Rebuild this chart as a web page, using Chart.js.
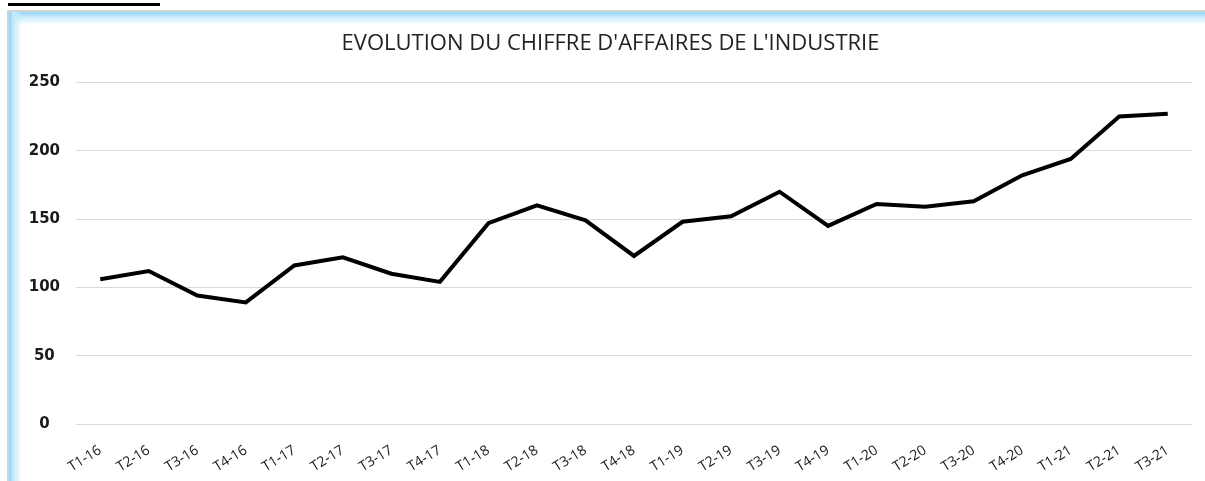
<!DOCTYPE html>
<html>
<head>
<meta charset="utf-8">
<script src="https://cdn.jsdelivr.net/npm/chart.js@4/dist/chart.umd.min.js"></script>
<style>
  html, body { margin: 0; padding: 0; background: #fff; }
  body { width: 1205px; height: 481px; position: relative; overflow: hidden; }
  #souligne { position: absolute; left: 8px; top: 3px; width: 152px; height: 3px; background: #000; }
  #cadre {
    position: absolute; left: 7px; top: 10px; right: -20px; bottom: -20px;
    border-left: 2px solid #d3d3d3; border-top: 2px solid #d3d3d3;
    background:
      linear-gradient(to right, #8fd5f4 0px, #c9ecfb 5px, rgba(255,255,255,0) 13px),
      linear-gradient(to bottom, #8fd5f4 0px, #c9ecfb 5px, rgba(255,255,255,0) 13px),
      #fff;
  }
  #zone { position: absolute; left: 0; top: 0; width: 1205px; height: 481px; }
</style>
</head>
<body>
<div id="souligne"></div>
<div id="cadre"></div>
<div id="zone"><canvas id="graphique"></canvas></div>
<script>
// trimestres et chiffre d'affaires (indice)
const trimestres = ['T1-16','T2-16','T3-16','T4-16','T1-17','T2-17','T3-17','T4-17',
  'T1-18','T2-18','T3-18','T4-18','T1-19','T2-19','T3-19','T4-19',
  'T1-20','T2-20','T3-20','T4-20','T1-21','T2-21','T3-21'];
const chiffreAffaires = [106, 112, 94, 89, 116, 122, 110, 104,
  147, 160, 149, 123, 148, 152, 170, 145,
  161, 159, 163, 182, 194, 225, 227];
const graduations = [0, 50, 100, 150, 200, 250];

const ctx = document.getElementById('graphique').getContext('2d');

new Chart(ctx, {
  type: 'line',
  data: {
    labels: trimestres,
    datasets: [{
      label: "Chiffre d'affaires",
      data: chiffreAffaires,
      borderColor: '#000',
      borderWidth: 4,
      pointRadius: 0,
      tension: 0,
      fill: false
    }]
  },
  options: {
    responsive: true,
    maintainAspectRatio: false,
    animation: false,
    layout: { padding: { left: 29, right: 13, top: 0, bottom: 0 } },
    plugins: {
      legend: { display: false },
      tooltip: { enabled: false },
      title: {
        display: true,
        text: "EVOLUTION DU CHIFFRE D'AFFAIRES DE L'INDUSTRIE",
        color: '#222',
        font: { family: 'Open Sans', size: 22, weight: 'normal' },
        padding: { top: 31, bottom: 25 }
      }
    },
    scales: {
      x: {
        offset: true,
        grid: { display: false },
        border: { display: false },
        // hauteur fixe de l'axe pour caler la zone de tracé
        afterFit: axis => { axis.paddingLeft = 0; axis.paddingRight = 0; axis.height = 57; },
        ticks: {
          color: '#1a1a1a',
          font: { family: 'Open Sans', size: 14 },
          minRotation: 32,
          maxRotation: 32,
          autoSkip: false,
          padding: 10
        }
      },
      y: {
        min: 0,
        max: 250,
        afterBuildTicks: axis => { axis.ticks = graduations.map(v => ({ value: v })); },
        afterFit: axis => { axis.width = 47; },
        grid: { color: '#d9d9d9', lineWidth: 1, drawTicks: false },
        border: { display: false },
        ticks: {
          color: '#1a1a1a',
          font: { family: 'DejaVu Sans', size: 15, weight: 'bold' },
          crossAlign: 'center',
          padding: 16
        }
      }
    }
  }
});
</script>
</body>
</html>
